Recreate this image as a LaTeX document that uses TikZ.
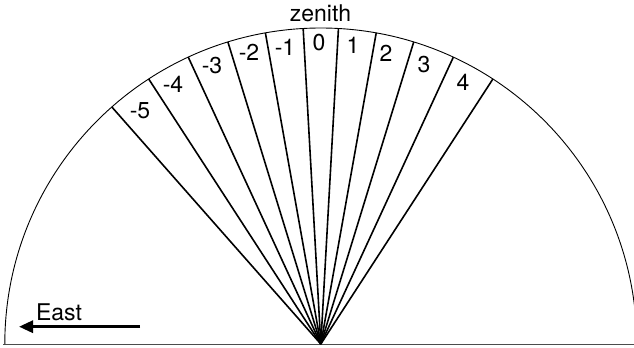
\documentclass[tikz,border=0pt]{standalone}
\usepackage{fontspec}
\setmainfont{TeX Gyre Heros}
\usetikzlibrary{arrows.meta,calc}
\begin{document}
\begin{tikzpicture}[x=1bp,y=1bp,
  fanline/.style={line width=1.6bp, black},
  rimline/.style={line width=0.9bp, black},
  lbl/.style={anchor=base, inner sep=0pt, font=\fontsize{23bp}{25bp}\selectfont},
  eastarrow/.style={line width=3bp, -{Triangle[length=14bp,width=12bp]}}]
\useasboundingbox (0,0) rectangle (634,347);
\clip (0,0) rectangle (634,347);
\coordinate (C) at (320.8,3);
% ground line
\coordinate (gl) at (3,2.5);
\coordinate (gr) at (640,2.5);
\draw[line width=1bp, black!70] (gl) -- (gr);
% rim
\draw[rimline] (C) ++(180:316) arc[start angle=180, end angle=5, radius=316];
% fan lines
\foreach \n/\a in {m5/131.4, m4/123.0, m3/114.8, m2/107.1, m1/100.1, z/93.2, p1/86.8, p2/79.9, p3/72.9, p4/65.2, p5/57.0}{
  \coordinate (e\n) at ($(C)+(\a:316)$);
  \draw[fanline] (C) -- (e\n);
}
% labels
\node[lbl] (zen) at (320.5,325.3) {zenith};
\node[lbl] (l0) at (319,297) {0};
\node[lbl] (l1) at (353,294) {1};
\node[lbl] (l2) at (386,286) {2};
\node[lbl] (l3) at (424,275) {3};
\node[lbl] (l4) at (463,257) {4};
\node[lbl] (lm1) at (285,292) {-1};
\node[lbl] (lm2) at (249,287) {-2};
\node[lbl] (lm3) at (212,274) {-3};
\node[lbl] (lm4) at (173,255) {-4};
\node[lbl] (lm5) at (140,229) {-5};
% East arrow
\node[lbl] (east) at (59,27) {East};
\coordinate (as) at (140,20.3);
\coordinate (ae) at (19,20.3);
\draw[eastarrow] (as) -- (ae);
\end{tikzpicture}
\end{document}
